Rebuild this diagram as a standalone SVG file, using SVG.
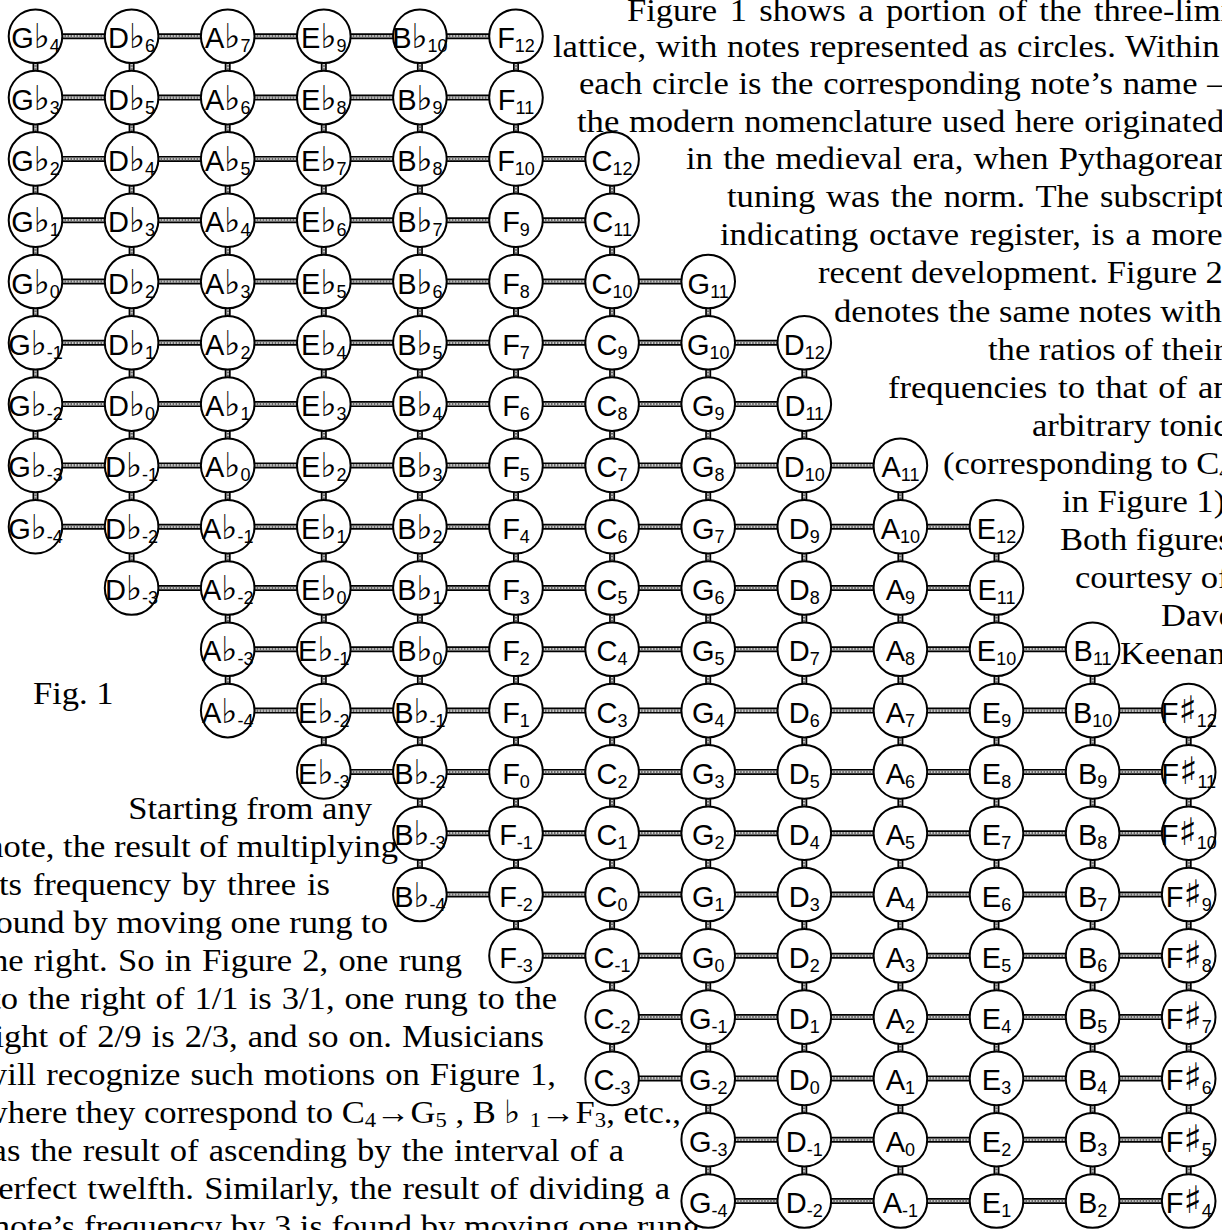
<svg xmlns="http://www.w3.org/2000/svg" xmlns:xlink="http://www.w3.org/1999/xlink" width="1222" height="1230" viewBox="0 0 1222 1230">
<style>
  .n circle { fill:#fff; stroke:#000; stroke-width:2; }
  .n text { font-family:"Liberation Sans", Arial, sans-serif; font-size:29px; text-anchor:middle; fill:#000; }
  .n .a { font-family:"DejaVu Sans", sans-serif; font-size:34px; font-weight:bold; }
  .n .sh { font-family:"DejaVu Sans", sans-serif; font-size:38px; }
  .n .s { font-size:18px; }
  .r0 { stroke:#000; stroke-width:6; }
  .r1 { stroke:#c8c8c8; stroke-width:2.6; }
  .r2 { stroke:#6a6a6a; stroke-width:2.6; stroke-dasharray:1.5 1.5; }
  .t { font-family:"Liberation Serif", "Times New Roman", serif; font-size:32px; fill:#000; }
  .e { text-anchor:end; }
  .ss { font-size:21px; }
</style>
<defs>
  <!-- one horizontal rung (to the right of a note) and one vertical rung (below a note) -->
  <g id="h"><line class="r0" x1="26" x2="70.1"/><line class="r1" x1="26" x2="70.1"/><line class="r2" x1="26" x2="70.1"/></g>
  <g id="v"><line class="r0" y1="26" y2="35.3"/><line class="r1" y1="26" y2="35.3"/><line class="r2" y1="26" y2="35.3"/></g>
</defs>
<rect width="1222" height="1230" fill="#fff"/>

<!-- body text -->
<g id="text">
  <text class="t" transform="translate(627 21) scale(1.08 1)" style="word-spacing:3.5px">Figure 1 shows a portion of the three-limit</text>
  <text class="t" transform="translate(553 57) scale(1.08 1)" style="word-spacing:1px">lattice, with notes represented as circles. Within</text>
  <text class="t" transform="translate(579 94) scale(1.08 1)" style="word-spacing:1px">each circle is the corresponding note’s name –</text>
  <text class="t" transform="translate(577 131.5) scale(1.08 1)" style="word-spacing:1px">the modern nomenclature used here originated</text>
  <text class="t" transform="translate(686 169.1) scale(1.08 1)" style="word-spacing:1.5px">in the medieval era, when Pythagorean</text>
  <text class="t" transform="translate(727 207.2) scale(1.08 1)" style="word-spacing:2px">tuning was the norm. The subscript,</text>
  <text class="t" transform="translate(720 245.3) scale(1.08 1)" style="word-spacing:2px">indicating octave register, is a more</text>
  <text class="t" transform="translate(818 283.4) scale(1.08 1)">recent development. Figure 2</text>
  <text class="t" transform="translate(834 321.5) scale(1.08 1)">denotes the same notes with</text>
  <text class="t" transform="translate(988 359.6) scale(1.08 1)">the ratios of their</text>
  <text class="t" transform="translate(888 397.7) scale(1.08 1)" style="word-spacing:2px">frequencies to that of an</text>
  <text class="t" transform="translate(1032 435.8) scale(1.08 1)">arbitrary tonic</text>
  <text class="t" transform="translate(943 473.9) scale(1.08 1)">(corresponding to C<tspan class="ss" dy="4">4</tspan></text>
  <text class="t" transform="translate(1062 512) scale(1.08 1)">in Figure 1).</text>
  <text class="t" transform="translate(1060 550.1) scale(1.08 1)">Both figures</text>
  <text class="t" transform="translate(1075 588.2) scale(1.08 1)">courtesy of</text>
  <text class="t" transform="translate(1161 626.3) scale(1.08 1)">Dave</text>
  <text class="t" transform="translate(1120 664.4) scale(1.08 1)">Keenan.</text>

  <text class="t" transform="translate(33 704) scale(1.08 1)">Fig. 1</text>

  <text class="t e" transform="translate(372 818.5) scale(1.08 1)">Starting from any</text>
  <text class="t e" transform="translate(398 856.6) scale(1.08 1)">note, the result of multiplying</text>
  <text class="t e" transform="translate(330 894.6) scale(1.08 1)" style="word-spacing:2px">its frequency by three is</text>
  <text class="t e" transform="translate(388 932.7) scale(1.08 1)">found by moving one rung to</text>
  <text class="t e" transform="translate(462 970.7) scale(1.08 1)" style="word-spacing:1.5px">the right. So in Figure 2, one rung</text>
  <text class="t e" transform="translate(557 1008.8) scale(1.08 1)" style="word-spacing:1.3px">to the right of 1/1 is 3/1, one rung to the</text>
  <text class="t e" transform="translate(544 1046.8) scale(1.08 1)" style="word-spacing:1.4px">right of 2/9 is 2/3, and so on. Musicians</text>
  <text class="t e" transform="translate(556 1084.9) scale(1.08 1)" style="word-spacing:1.3px">will recognize such motions on Figure 1,</text>
  <text class="t e" transform="translate(681 1122.9) scale(1.08 1)">where they correspond to C<tspan class="ss" dy="4">4</tspan><tspan dy="-4">→G</tspan><tspan class="ss" dy="4">5</tspan><tspan dy="-4"> , B ♭ </tspan><tspan class="ss" dy="4">1</tspan><tspan dy="-4">→F</tspan><tspan class="ss" dy="4">3</tspan><tspan dy="-4">, etc.,</tspan></text>
  <text class="t e" transform="translate(624 1161) scale(1.08 1)" style="word-spacing:1.4px">as the result of ascending by the interval of a</text>
  <text class="t e" transform="translate(670 1199) scale(1.08 1)" style="word-spacing:1.7px">perfect twelfth. Similarly, the result of dividing a</text>
  <text class="t e" transform="translate(700 1237.1) scale(1.08 1)">note’s frequency by 3 is found by moving one rung</text>
</g>

<!-- rungs of the lattice -->
<g id="connectors">
  <g id="rows">
    <g transform="translate(0 36.3)"><use href="#h" x="35.5"/><use href="#h" x="131.6"/><use href="#h" x="227.7"/><use href="#h" x="323.8"/><use href="#h" x="419.9"/></g>
    <g transform="translate(0 97.6)"><use href="#h" x="35.5"/><use href="#h" x="131.6"/><use href="#h" x="227.7"/><use href="#h" x="323.8"/><use href="#h" x="419.9"/></g>
    <g transform="translate(0 158.9)"><use href="#h" x="35.5"/><use href="#h" x="131.6"/><use href="#h" x="227.7"/><use href="#h" x="323.8"/><use href="#h" x="419.9"/><use href="#h" x="516"/></g>
    <g transform="translate(0 220.2)"><use href="#h" x="35.5"/><use href="#h" x="131.6"/><use href="#h" x="227.7"/><use href="#h" x="323.8"/><use href="#h" x="419.9"/><use href="#h" x="516"/></g>
    <g transform="translate(0 281.5)"><use href="#h" x="35.5"/><use href="#h" x="131.6"/><use href="#h" x="227.7"/><use href="#h" x="323.8"/><use href="#h" x="419.9"/><use href="#h" x="516"/><use href="#h" x="612.1"/></g>
    <g transform="translate(0 342.8)"><use href="#h" x="35.5"/><use href="#h" x="131.6"/><use href="#h" x="227.7"/><use href="#h" x="323.8"/><use href="#h" x="419.9"/><use href="#h" x="516"/><use href="#h" x="612.1"/><use href="#h" x="708.2"/></g>
    <g transform="translate(0 404.1)"><use href="#h" x="35.5"/><use href="#h" x="131.6"/><use href="#h" x="227.7"/><use href="#h" x="323.8"/><use href="#h" x="419.9"/><use href="#h" x="516"/><use href="#h" x="612.1"/><use href="#h" x="708.2"/></g>
    <g transform="translate(0 465.4)"><use href="#h" x="35.5"/><use href="#h" x="131.6"/><use href="#h" x="227.7"/><use href="#h" x="323.8"/><use href="#h" x="419.9"/><use href="#h" x="516"/><use href="#h" x="612.1"/><use href="#h" x="708.2"/><use href="#h" x="804.3"/></g>
    <g transform="translate(0 526.7)"><use href="#h" x="35.5"/><use href="#h" x="131.6"/><use href="#h" x="227.7"/><use href="#h" x="323.8"/><use href="#h" x="419.9"/><use href="#h" x="516"/><use href="#h" x="612.1"/><use href="#h" x="708.2"/><use href="#h" x="804.3"/><use href="#h" x="900.4"/></g>
    <g transform="translate(0 588)"><use href="#h" x="131.6"/><use href="#h" x="227.7"/><use href="#h" x="323.8"/><use href="#h" x="419.9"/><use href="#h" x="516"/><use href="#h" x="612.1"/><use href="#h" x="708.2"/><use href="#h" x="804.3"/><use href="#h" x="900.4"/></g>
    <g transform="translate(0 649.3)"><use href="#h" x="227.7"/><use href="#h" x="323.8"/><use href="#h" x="419.9"/><use href="#h" x="516"/><use href="#h" x="612.1"/><use href="#h" x="708.2"/><use href="#h" x="804.3"/><use href="#h" x="900.4"/><use href="#h" x="996.5"/></g>
    <g transform="translate(0 710.6)"><use href="#h" x="227.7"/><use href="#h" x="323.8"/><use href="#h" x="419.9"/><use href="#h" x="516"/><use href="#h" x="612.1"/><use href="#h" x="708.2"/><use href="#h" x="804.3"/><use href="#h" x="900.4"/><use href="#h" x="996.5"/><use href="#h" x="1092.6"/></g>
    <g transform="translate(0 771.9)"><use href="#h" x="323.8"/><use href="#h" x="419.9"/><use href="#h" x="516"/><use href="#h" x="612.1"/><use href="#h" x="708.2"/><use href="#h" x="804.3"/><use href="#h" x="900.4"/><use href="#h" x="996.5"/><use href="#h" x="1092.6"/></g>
    <g transform="translate(0 833.2)"><use href="#h" x="419.9"/><use href="#h" x="516"/><use href="#h" x="612.1"/><use href="#h" x="708.2"/><use href="#h" x="804.3"/><use href="#h" x="900.4"/><use href="#h" x="996.5"/><use href="#h" x="1092.6"/></g>
    <g transform="translate(0 894.5)"><use href="#h" x="419.9"/><use href="#h" x="516"/><use href="#h" x="612.1"/><use href="#h" x="708.2"/><use href="#h" x="804.3"/><use href="#h" x="900.4"/><use href="#h" x="996.5"/><use href="#h" x="1092.6"/></g>
    <g transform="translate(0 955.8)"><use href="#h" x="516"/><use href="#h" x="612.1"/><use href="#h" x="708.2"/><use href="#h" x="804.3"/><use href="#h" x="900.4"/><use href="#h" x="996.5"/><use href="#h" x="1092.6"/></g>
    <g transform="translate(0 1017.1)"><use href="#h" x="612.1"/><use href="#h" x="708.2"/><use href="#h" x="804.3"/><use href="#h" x="900.4"/><use href="#h" x="996.5"/><use href="#h" x="1092.6"/></g>
    <g transform="translate(0 1078.4)"><use href="#h" x="612.1"/><use href="#h" x="708.2"/><use href="#h" x="804.3"/><use href="#h" x="900.4"/><use href="#h" x="996.5"/><use href="#h" x="1092.6"/></g>
    <g transform="translate(0 1139.7)"><use href="#h" x="708.2"/><use href="#h" x="804.3"/><use href="#h" x="900.4"/><use href="#h" x="996.5"/><use href="#h" x="1092.6"/></g>
    <g transform="translate(0 1201)"><use href="#h" x="708.2"/><use href="#h" x="804.3"/><use href="#h" x="900.4"/><use href="#h" x="996.5"/><use href="#h" x="1092.6"/></g>
  </g>
  <g id="columns">
    <g transform="translate(35.5 0)"><use href="#v" y="36.3"/><use href="#v" y="97.6"/><use href="#v" y="158.9"/><use href="#v" y="220.2"/><use href="#v" y="281.5"/><use href="#v" y="342.8"/><use href="#v" y="404.1"/><use href="#v" y="465.4"/></g>
    <g transform="translate(131.6 0)"><use href="#v" y="36.3"/><use href="#v" y="97.6"/><use href="#v" y="158.9"/><use href="#v" y="220.2"/><use href="#v" y="281.5"/><use href="#v" y="342.8"/><use href="#v" y="404.1"/><use href="#v" y="465.4"/><use href="#v" y="526.7"/></g>
    <g transform="translate(227.7 0)"><use href="#v" y="36.3"/><use href="#v" y="97.6"/><use href="#v" y="158.9"/><use href="#v" y="220.2"/><use href="#v" y="281.5"/><use href="#v" y="342.8"/><use href="#v" y="404.1"/><use href="#v" y="465.4"/><use href="#v" y="526.7"/><use href="#v" y="588"/><use href="#v" y="649.3"/></g>
    <g transform="translate(323.8 0)"><use href="#v" y="36.3"/><use href="#v" y="97.6"/><use href="#v" y="158.9"/><use href="#v" y="220.2"/><use href="#v" y="281.5"/><use href="#v" y="342.8"/><use href="#v" y="404.1"/><use href="#v" y="465.4"/><use href="#v" y="526.7"/><use href="#v" y="588"/><use href="#v" y="649.3"/><use href="#v" y="710.6"/></g>
    <g transform="translate(419.9 0)"><use href="#v" y="36.3"/><use href="#v" y="97.6"/><use href="#v" y="158.9"/><use href="#v" y="220.2"/><use href="#v" y="281.5"/><use href="#v" y="342.8"/><use href="#v" y="404.1"/><use href="#v" y="465.4"/><use href="#v" y="526.7"/><use href="#v" y="588"/><use href="#v" y="649.3"/><use href="#v" y="710.6"/><use href="#v" y="771.9"/><use href="#v" y="833.2"/></g>
    <g transform="translate(516 0)"><use href="#v" y="36.3"/><use href="#v" y="97.6"/><use href="#v" y="158.9"/><use href="#v" y="220.2"/><use href="#v" y="281.5"/><use href="#v" y="342.8"/><use href="#v" y="404.1"/><use href="#v" y="465.4"/><use href="#v" y="526.7"/><use href="#v" y="588"/><use href="#v" y="649.3"/><use href="#v" y="710.6"/><use href="#v" y="771.9"/><use href="#v" y="833.2"/><use href="#v" y="894.5"/></g>
    <g transform="translate(612.1 0)"><use href="#v" y="158.9"/><use href="#v" y="220.2"/><use href="#v" y="281.5"/><use href="#v" y="342.8"/><use href="#v" y="404.1"/><use href="#v" y="465.4"/><use href="#v" y="526.7"/><use href="#v" y="588"/><use href="#v" y="649.3"/><use href="#v" y="710.6"/><use href="#v" y="771.9"/><use href="#v" y="833.2"/><use href="#v" y="894.5"/><use href="#v" y="955.8"/><use href="#v" y="1017.1"/></g>
    <g transform="translate(708.2 0)"><use href="#v" y="281.5"/><use href="#v" y="342.8"/><use href="#v" y="404.1"/><use href="#v" y="465.4"/><use href="#v" y="526.7"/><use href="#v" y="588"/><use href="#v" y="649.3"/><use href="#v" y="710.6"/><use href="#v" y="771.9"/><use href="#v" y="833.2"/><use href="#v" y="894.5"/><use href="#v" y="955.8"/><use href="#v" y="1017.1"/><use href="#v" y="1078.4"/><use href="#v" y="1139.7"/></g>
    <g transform="translate(804.3 0)"><use href="#v" y="342.8"/><use href="#v" y="404.1"/><use href="#v" y="465.4"/><use href="#v" y="526.7"/><use href="#v" y="588"/><use href="#v" y="649.3"/><use href="#v" y="710.6"/><use href="#v" y="771.9"/><use href="#v" y="833.2"/><use href="#v" y="894.5"/><use href="#v" y="955.8"/><use href="#v" y="1017.1"/><use href="#v" y="1078.4"/><use href="#v" y="1139.7"/></g>
    <g transform="translate(900.4 0)"><use href="#v" y="465.4"/><use href="#v" y="526.7"/><use href="#v" y="588"/><use href="#v" y="649.3"/><use href="#v" y="710.6"/><use href="#v" y="771.9"/><use href="#v" y="833.2"/><use href="#v" y="894.5"/><use href="#v" y="955.8"/><use href="#v" y="1017.1"/><use href="#v" y="1078.4"/><use href="#v" y="1139.7"/></g>
    <g transform="translate(996.5 0)"><use href="#v" y="526.7"/><use href="#v" y="588"/><use href="#v" y="649.3"/><use href="#v" y="710.6"/><use href="#v" y="771.9"/><use href="#v" y="833.2"/><use href="#v" y="894.5"/><use href="#v" y="955.8"/><use href="#v" y="1017.1"/><use href="#v" y="1078.4"/><use href="#v" y="1139.7"/></g>
    <g transform="translate(1092.6 0)"><use href="#v" y="649.3"/><use href="#v" y="710.6"/><use href="#v" y="771.9"/><use href="#v" y="833.2"/><use href="#v" y="894.5"/><use href="#v" y="955.8"/><use href="#v" y="1017.1"/><use href="#v" y="1078.4"/><use href="#v" y="1139.7"/></g>
    <g transform="translate(1188.7 0)"><use href="#v" y="710.6"/><use href="#v" y="771.9"/><use href="#v" y="833.2"/><use href="#v" y="894.5"/><use href="#v" y="955.8"/><use href="#v" y="1017.1"/><use href="#v" y="1078.4"/><use href="#v" y="1139.7"/></g>
  </g>
</g>

<!-- notes -->
<g id="notes">
  <!-- row 0 -->
  <g id="Gb4" class="n" transform="translate(35.5 36.3)"><circle r="26.8"/><text y="12">G<tspan class="a">♭</tspan><tspan class="s" dy="4">4</tspan></text></g>
  <g id="Db6" class="n" transform="translate(131.6 36.3)"><circle r="26.8"/><text y="12">D<tspan class="a">♭</tspan><tspan class="s" dy="4">6</tspan></text></g>
  <g id="Ab7" class="n" transform="translate(227.7 36.3)"><circle r="26.8"/><text y="12">A<tspan class="a">♭</tspan><tspan class="s" dy="4">7</tspan></text></g>
  <g id="Eb9" class="n" transform="translate(323.8 36.3)"><circle r="26.8"/><text y="12">E<tspan class="a">♭</tspan><tspan class="s" dy="4">9</tspan></text></g>
  <g id="Bb10" class="n" transform="translate(419.9 36.3)"><circle r="26.8"/><text y="12">B<tspan class="a">♭</tspan><tspan class="s" dy="4">10</tspan></text></g>
  <g id="F12" class="n" transform="translate(516 36.3)"><circle r="26.8"/><text y="12">F<tspan class="s" dy="4">12</tspan></text></g>
  <!-- row 1 -->
  <g id="Gb3" class="n" transform="translate(35.5 97.6)"><circle r="26.8"/><text y="12">G<tspan class="a">♭</tspan><tspan class="s" dy="4">3</tspan></text></g>
  <g id="Db5" class="n" transform="translate(131.6 97.6)"><circle r="26.8"/><text y="12">D<tspan class="a">♭</tspan><tspan class="s" dy="4">5</tspan></text></g>
  <g id="Ab6" class="n" transform="translate(227.7 97.6)"><circle r="26.8"/><text y="12">A<tspan class="a">♭</tspan><tspan class="s" dy="4">6</tspan></text></g>
  <g id="Eb8" class="n" transform="translate(323.8 97.6)"><circle r="26.8"/><text y="12">E<tspan class="a">♭</tspan><tspan class="s" dy="4">8</tspan></text></g>
  <g id="Bb9" class="n" transform="translate(419.9 97.6)"><circle r="26.8"/><text y="12">B<tspan class="a">♭</tspan><tspan class="s" dy="4">9</tspan></text></g>
  <g id="F11" class="n" transform="translate(516 97.6)"><circle r="26.8"/><text y="12">F<tspan class="s" dy="4">11</tspan></text></g>
  <!-- row 2 -->
  <g id="Gb2" class="n" transform="translate(35.5 158.9)"><circle r="26.8"/><text y="12">G<tspan class="a">♭</tspan><tspan class="s" dy="4">2</tspan></text></g>
  <g id="Db4" class="n" transform="translate(131.6 158.9)"><circle r="26.8"/><text y="12">D<tspan class="a">♭</tspan><tspan class="s" dy="4">4</tspan></text></g>
  <g id="Ab5" class="n" transform="translate(227.7 158.9)"><circle r="26.8"/><text y="12">A<tspan class="a">♭</tspan><tspan class="s" dy="4">5</tspan></text></g>
  <g id="Eb7" class="n" transform="translate(323.8 158.9)"><circle r="26.8"/><text y="12">E<tspan class="a">♭</tspan><tspan class="s" dy="4">7</tspan></text></g>
  <g id="Bb8" class="n" transform="translate(419.9 158.9)"><circle r="26.8"/><text y="12">B<tspan class="a">♭</tspan><tspan class="s" dy="4">8</tspan></text></g>
  <g id="F10" class="n" transform="translate(516 158.9)"><circle r="26.8"/><text y="12">F<tspan class="s" dy="4">10</tspan></text></g>
  <g id="C12" class="n" transform="translate(612.1 158.9)"><circle r="26.8"/><text y="12">C<tspan class="s" dy="4">12</tspan></text></g>
  <!-- row 3 -->
  <g id="Gb1" class="n" transform="translate(35.5 220.2)"><circle r="26.8"/><text y="12">G<tspan class="a">♭</tspan><tspan class="s" dy="4">1</tspan></text></g>
  <g id="Db3" class="n" transform="translate(131.6 220.2)"><circle r="26.8"/><text y="12">D<tspan class="a">♭</tspan><tspan class="s" dy="4">3</tspan></text></g>
  <g id="Ab4" class="n" transform="translate(227.7 220.2)"><circle r="26.8"/><text y="12">A<tspan class="a">♭</tspan><tspan class="s" dy="4">4</tspan></text></g>
  <g id="Eb6" class="n" transform="translate(323.8 220.2)"><circle r="26.8"/><text y="12">E<tspan class="a">♭</tspan><tspan class="s" dy="4">6</tspan></text></g>
  <g id="Bb7" class="n" transform="translate(419.9 220.2)"><circle r="26.8"/><text y="12">B<tspan class="a">♭</tspan><tspan class="s" dy="4">7</tspan></text></g>
  <g id="F9" class="n" transform="translate(516 220.2)"><circle r="26.8"/><text y="12">F<tspan class="s" dy="4">9</tspan></text></g>
  <g id="C11" class="n" transform="translate(612.1 220.2)"><circle r="26.8"/><text y="12">C<tspan class="s" dy="4">11</tspan></text></g>
  <!-- row 4 -->
  <g id="Gb0" class="n" transform="translate(35.5 281.5)"><circle r="26.8"/><text y="12">G<tspan class="a">♭</tspan><tspan class="s" dy="4">0</tspan></text></g>
  <g id="Db2" class="n" transform="translate(131.6 281.5)"><circle r="26.8"/><text y="12">D<tspan class="a">♭</tspan><tspan class="s" dy="4">2</tspan></text></g>
  <g id="Ab3" class="n" transform="translate(227.7 281.5)"><circle r="26.8"/><text y="12">A<tspan class="a">♭</tspan><tspan class="s" dy="4">3</tspan></text></g>
  <g id="Eb5" class="n" transform="translate(323.8 281.5)"><circle r="26.8"/><text y="12">E<tspan class="a">♭</tspan><tspan class="s" dy="4">5</tspan></text></g>
  <g id="Bb6" class="n" transform="translate(419.9 281.5)"><circle r="26.8"/><text y="12">B<tspan class="a">♭</tspan><tspan class="s" dy="4">6</tspan></text></g>
  <g id="F8" class="n" transform="translate(516 281.5)"><circle r="26.8"/><text y="12">F<tspan class="s" dy="4">8</tspan></text></g>
  <g id="C10" class="n" transform="translate(612.1 281.5)"><circle r="26.8"/><text y="12">C<tspan class="s" dy="4">10</tspan></text></g>
  <g id="G11" class="n" transform="translate(708.2 281.5)"><circle r="26.8"/><text y="12">G<tspan class="s" dy="4">11</tspan></text></g>
  <!-- row 5 -->
  <g id="Gb-1" class="n" transform="translate(35.5 342.8)"><circle r="26.8"/><text y="12">G<tspan class="a">♭</tspan><tspan class="s" dy="4">-1</tspan></text></g>
  <g id="Db1" class="n" transform="translate(131.6 342.8)"><circle r="26.8"/><text y="12">D<tspan class="a">♭</tspan><tspan class="s" dy="4">1</tspan></text></g>
  <g id="Ab2" class="n" transform="translate(227.7 342.8)"><circle r="26.8"/><text y="12">A<tspan class="a">♭</tspan><tspan class="s" dy="4">2</tspan></text></g>
  <g id="Eb4" class="n" transform="translate(323.8 342.8)"><circle r="26.8"/><text y="12">E<tspan class="a">♭</tspan><tspan class="s" dy="4">4</tspan></text></g>
  <g id="Bb5" class="n" transform="translate(419.9 342.8)"><circle r="26.8"/><text y="12">B<tspan class="a">♭</tspan><tspan class="s" dy="4">5</tspan></text></g>
  <g id="F7" class="n" transform="translate(516 342.8)"><circle r="26.8"/><text y="12">F<tspan class="s" dy="4">7</tspan></text></g>
  <g id="C9" class="n" transform="translate(612.1 342.8)"><circle r="26.8"/><text y="12">C<tspan class="s" dy="4">9</tspan></text></g>
  <g id="G10" class="n" transform="translate(708.2 342.8)"><circle r="26.8"/><text y="12">G<tspan class="s" dy="4">10</tspan></text></g>
  <g id="D12" class="n" transform="translate(804.3 342.8)"><circle r="26.8"/><text y="12">D<tspan class="s" dy="4">12</tspan></text></g>
  <!-- row 6 -->
  <g id="Gb-2" class="n" transform="translate(35.5 404.1)"><circle r="26.8"/><text y="12">G<tspan class="a">♭</tspan><tspan class="s" dy="4">-2</tspan></text></g>
  <g id="Db0" class="n" transform="translate(131.6 404.1)"><circle r="26.8"/><text y="12">D<tspan class="a">♭</tspan><tspan class="s" dy="4">0</tspan></text></g>
  <g id="Ab1" class="n" transform="translate(227.7 404.1)"><circle r="26.8"/><text y="12">A<tspan class="a">♭</tspan><tspan class="s" dy="4">1</tspan></text></g>
  <g id="Eb3" class="n" transform="translate(323.8 404.1)"><circle r="26.8"/><text y="12">E<tspan class="a">♭</tspan><tspan class="s" dy="4">3</tspan></text></g>
  <g id="Bb4" class="n" transform="translate(419.9 404.1)"><circle r="26.8"/><text y="12">B<tspan class="a">♭</tspan><tspan class="s" dy="4">4</tspan></text></g>
  <g id="F6" class="n" transform="translate(516 404.1)"><circle r="26.8"/><text y="12">F<tspan class="s" dy="4">6</tspan></text></g>
  <g id="C8" class="n" transform="translate(612.1 404.1)"><circle r="26.8"/><text y="12">C<tspan class="s" dy="4">8</tspan></text></g>
  <g id="G9" class="n" transform="translate(708.2 404.1)"><circle r="26.8"/><text y="12">G<tspan class="s" dy="4">9</tspan></text></g>
  <g id="D11" class="n" transform="translate(804.3 404.1)"><circle r="26.8"/><text y="12">D<tspan class="s" dy="4">11</tspan></text></g>
  <!-- row 7 -->
  <g id="Gb-3" class="n" transform="translate(35.5 465.4)"><circle r="26.8"/><text y="12">G<tspan class="a">♭</tspan><tspan class="s" dy="4">-3</tspan></text></g>
  <g id="Db-1" class="n" transform="translate(131.6 465.4)"><circle r="26.8"/><text y="12">D<tspan class="a">♭</tspan><tspan class="s" dy="4">-1</tspan></text></g>
  <g id="Ab0" class="n" transform="translate(227.7 465.4)"><circle r="26.8"/><text y="12">A<tspan class="a">♭</tspan><tspan class="s" dy="4">0</tspan></text></g>
  <g id="Eb2" class="n" transform="translate(323.8 465.4)"><circle r="26.8"/><text y="12">E<tspan class="a">♭</tspan><tspan class="s" dy="4">2</tspan></text></g>
  <g id="Bb3" class="n" transform="translate(419.9 465.4)"><circle r="26.8"/><text y="12">B<tspan class="a">♭</tspan><tspan class="s" dy="4">3</tspan></text></g>
  <g id="F5" class="n" transform="translate(516 465.4)"><circle r="26.8"/><text y="12">F<tspan class="s" dy="4">5</tspan></text></g>
  <g id="C7" class="n" transform="translate(612.1 465.4)"><circle r="26.8"/><text y="12">C<tspan class="s" dy="4">7</tspan></text></g>
  <g id="G8" class="n" transform="translate(708.2 465.4)"><circle r="26.8"/><text y="12">G<tspan class="s" dy="4">8</tspan></text></g>
  <g id="D10" class="n" transform="translate(804.3 465.4)"><circle r="26.8"/><text y="12">D<tspan class="s" dy="4">10</tspan></text></g>
  <g id="A11" class="n" transform="translate(900.4 465.4)"><circle r="26.8"/><text y="12">A<tspan class="s" dy="4">11</tspan></text></g>
  <!-- row 8 -->
  <g id="Gb-4" class="n" transform="translate(35.5 526.7)"><circle r="26.8"/><text y="12">G<tspan class="a">♭</tspan><tspan class="s" dy="4">-4</tspan></text></g>
  <g id="Db-2" class="n" transform="translate(131.6 526.7)"><circle r="26.8"/><text y="12">D<tspan class="a">♭</tspan><tspan class="s" dy="4">-2</tspan></text></g>
  <g id="Ab-1" class="n" transform="translate(227.7 526.7)"><circle r="26.8"/><text y="12">A<tspan class="a">♭</tspan><tspan class="s" dy="4">-1</tspan></text></g>
  <g id="Eb1" class="n" transform="translate(323.8 526.7)"><circle r="26.8"/><text y="12">E<tspan class="a">♭</tspan><tspan class="s" dy="4">1</tspan></text></g>
  <g id="Bb2" class="n" transform="translate(419.9 526.7)"><circle r="26.8"/><text y="12">B<tspan class="a">♭</tspan><tspan class="s" dy="4">2</tspan></text></g>
  <g id="F4" class="n" transform="translate(516 526.7)"><circle r="26.8"/><text y="12">F<tspan class="s" dy="4">4</tspan></text></g>
  <g id="C6" class="n" transform="translate(612.1 526.7)"><circle r="26.8"/><text y="12">C<tspan class="s" dy="4">6</tspan></text></g>
  <g id="G7" class="n" transform="translate(708.2 526.7)"><circle r="26.8"/><text y="12">G<tspan class="s" dy="4">7</tspan></text></g>
  <g id="D9" class="n" transform="translate(804.3 526.7)"><circle r="26.8"/><text y="12">D<tspan class="s" dy="4">9</tspan></text></g>
  <g id="A10" class="n" transform="translate(900.4 526.7)"><circle r="26.8"/><text y="12">A<tspan class="s" dy="4">10</tspan></text></g>
  <g id="E12" class="n" transform="translate(996.5 526.7)"><circle r="26.8"/><text y="12">E<tspan class="s" dy="4">12</tspan></text></g>
  <!-- row 9 -->
  <g id="Db-3" class="n" transform="translate(131.6 588)"><circle r="26.8"/><text y="12">D<tspan class="a">♭</tspan><tspan class="s" dy="4">-3</tspan></text></g>
  <g id="Ab-2" class="n" transform="translate(227.7 588)"><circle r="26.8"/><text y="12">A<tspan class="a">♭</tspan><tspan class="s" dy="4">-2</tspan></text></g>
  <g id="Eb0" class="n" transform="translate(323.8 588)"><circle r="26.8"/><text y="12">E<tspan class="a">♭</tspan><tspan class="s" dy="4">0</tspan></text></g>
  <g id="Bb1" class="n" transform="translate(419.9 588)"><circle r="26.8"/><text y="12">B<tspan class="a">♭</tspan><tspan class="s" dy="4">1</tspan></text></g>
  <g id="F3" class="n" transform="translate(516 588)"><circle r="26.8"/><text y="12">F<tspan class="s" dy="4">3</tspan></text></g>
  <g id="C5" class="n" transform="translate(612.1 588)"><circle r="26.8"/><text y="12">C<tspan class="s" dy="4">5</tspan></text></g>
  <g id="G6" class="n" transform="translate(708.2 588)"><circle r="26.8"/><text y="12">G<tspan class="s" dy="4">6</tspan></text></g>
  <g id="D8" class="n" transform="translate(804.3 588)"><circle r="26.8"/><text y="12">D<tspan class="s" dy="4">8</tspan></text></g>
  <g id="A9" class="n" transform="translate(900.4 588)"><circle r="26.8"/><text y="12">A<tspan class="s" dy="4">9</tspan></text></g>
  <g id="E11" class="n" transform="translate(996.5 588)"><circle r="26.8"/><text y="12">E<tspan class="s" dy="4">11</tspan></text></g>
  <!-- row 10 -->
  <g id="Ab-3" class="n" transform="translate(227.7 649.3)"><circle r="26.8"/><text y="12">A<tspan class="a">♭</tspan><tspan class="s" dy="4">-3</tspan></text></g>
  <g id="Eb-1" class="n" transform="translate(323.8 649.3)"><circle r="26.8"/><text y="12">E<tspan class="a">♭</tspan><tspan class="s" dy="4">-1</tspan></text></g>
  <g id="Bb0" class="n" transform="translate(419.9 649.3)"><circle r="26.8"/><text y="12">B<tspan class="a">♭</tspan><tspan class="s" dy="4">0</tspan></text></g>
  <g id="F2" class="n" transform="translate(516 649.3)"><circle r="26.8"/><text y="12">F<tspan class="s" dy="4">2</tspan></text></g>
  <g id="C4" class="n" transform="translate(612.1 649.3)"><circle r="26.8"/><text y="12">C<tspan class="s" dy="4">4</tspan></text></g>
  <g id="G5" class="n" transform="translate(708.2 649.3)"><circle r="26.8"/><text y="12">G<tspan class="s" dy="4">5</tspan></text></g>
  <g id="D7" class="n" transform="translate(804.3 649.3)"><circle r="26.8"/><text y="12">D<tspan class="s" dy="4">7</tspan></text></g>
  <g id="A8" class="n" transform="translate(900.4 649.3)"><circle r="26.8"/><text y="12">A<tspan class="s" dy="4">8</tspan></text></g>
  <g id="E10" class="n" transform="translate(996.5 649.3)"><circle r="26.8"/><text y="12">E<tspan class="s" dy="4">10</tspan></text></g>
  <g id="B11" class="n" transform="translate(1092.6 649.3)"><circle r="26.8"/><text y="12">B<tspan class="s" dy="4">11</tspan></text></g>
  <!-- row 11 -->
  <g id="Ab-4" class="n" transform="translate(227.7 710.6)"><circle r="26.8"/><text y="12">A<tspan class="a">♭</tspan><tspan class="s" dy="4">-4</tspan></text></g>
  <g id="Eb-2" class="n" transform="translate(323.8 710.6)"><circle r="26.8"/><text y="12">E<tspan class="a">♭</tspan><tspan class="s" dy="4">-2</tspan></text></g>
  <g id="Bb-1" class="n" transform="translate(419.9 710.6)"><circle r="26.8"/><text y="12">B<tspan class="a">♭</tspan><tspan class="s" dy="4">-1</tspan></text></g>
  <g id="F1" class="n" transform="translate(516 710.6)"><circle r="26.8"/><text y="12">F<tspan class="s" dy="4">1</tspan></text></g>
  <g id="C3" class="n" transform="translate(612.1 710.6)"><circle r="26.8"/><text y="12">C<tspan class="s" dy="4">3</tspan></text></g>
  <g id="G4" class="n" transform="translate(708.2 710.6)"><circle r="26.8"/><text y="12">G<tspan class="s" dy="4">4</tspan></text></g>
  <g id="D6" class="n" transform="translate(804.3 710.6)"><circle r="26.8"/><text y="12">D<tspan class="s" dy="4">6</tspan></text></g>
  <g id="A7" class="n" transform="translate(900.4 710.6)"><circle r="26.8"/><text y="12">A<tspan class="s" dy="4">7</tspan></text></g>
  <g id="E9" class="n" transform="translate(996.5 710.6)"><circle r="26.8"/><text y="12">E<tspan class="s" dy="4">9</tspan></text></g>
  <g id="B10" class="n" transform="translate(1092.6 710.6)"><circle r="26.8"/><text y="12">B<tspan class="s" dy="4">10</tspan></text></g>
  <g id="Fs12" class="n" transform="translate(1188.7 710.6)"><circle r="26.8"/><text y="12">F<tspan class="sh">♯</tspan><tspan class="s" dy="4">12</tspan></text></g>
  <!-- row 12 -->
  <g id="Eb-3" class="n" transform="translate(323.8 771.9)"><circle r="26.8"/><text y="12">E<tspan class="a">♭</tspan><tspan class="s" dy="4">-3</tspan></text></g>
  <g id="Bb-2" class="n" transform="translate(419.9 771.9)"><circle r="26.8"/><text y="12">B<tspan class="a">♭</tspan><tspan class="s" dy="4">-2</tspan></text></g>
  <g id="F0" class="n" transform="translate(516 771.9)"><circle r="26.8"/><text y="12">F<tspan class="s" dy="4">0</tspan></text></g>
  <g id="C2" class="n" transform="translate(612.1 771.9)"><circle r="26.8"/><text y="12">C<tspan class="s" dy="4">2</tspan></text></g>
  <g id="G3" class="n" transform="translate(708.2 771.9)"><circle r="26.8"/><text y="12">G<tspan class="s" dy="4">3</tspan></text></g>
  <g id="D5" class="n" transform="translate(804.3 771.9)"><circle r="26.8"/><text y="12">D<tspan class="s" dy="4">5</tspan></text></g>
  <g id="A6" class="n" transform="translate(900.4 771.9)"><circle r="26.8"/><text y="12">A<tspan class="s" dy="4">6</tspan></text></g>
  <g id="E8" class="n" transform="translate(996.5 771.9)"><circle r="26.8"/><text y="12">E<tspan class="s" dy="4">8</tspan></text></g>
  <g id="B9" class="n" transform="translate(1092.6 771.9)"><circle r="26.8"/><text y="12">B<tspan class="s" dy="4">9</tspan></text></g>
  <g id="Fs11" class="n" transform="translate(1188.7 771.9)"><circle r="26.8"/><text y="12">F<tspan class="sh">♯</tspan><tspan class="s" dy="4">11</tspan></text></g>
  <!-- row 13 -->
  <g id="Bb-3" class="n" transform="translate(419.9 833.2)"><circle r="26.8"/><text y="12">B<tspan class="a">♭</tspan><tspan class="s" dy="4">-3</tspan></text></g>
  <g id="F-1" class="n" transform="translate(516 833.2)"><circle r="26.8"/><text y="12">F<tspan class="s" dy="4">-1</tspan></text></g>
  <g id="C1" class="n" transform="translate(612.1 833.2)"><circle r="26.8"/><text y="12">C<tspan class="s" dy="4">1</tspan></text></g>
  <g id="G2" class="n" transform="translate(708.2 833.2)"><circle r="26.8"/><text y="12">G<tspan class="s" dy="4">2</tspan></text></g>
  <g id="D4" class="n" transform="translate(804.3 833.2)"><circle r="26.8"/><text y="12">D<tspan class="s" dy="4">4</tspan></text></g>
  <g id="A5" class="n" transform="translate(900.4 833.2)"><circle r="26.8"/><text y="12">A<tspan class="s" dy="4">5</tspan></text></g>
  <g id="E7" class="n" transform="translate(996.5 833.2)"><circle r="26.8"/><text y="12">E<tspan class="s" dy="4">7</tspan></text></g>
  <g id="B8" class="n" transform="translate(1092.6 833.2)"><circle r="26.8"/><text y="12">B<tspan class="s" dy="4">8</tspan></text></g>
  <g id="Fs10" class="n" transform="translate(1188.7 833.2)"><circle r="26.8"/><text y="12">F<tspan class="sh">♯</tspan><tspan class="s" dy="4">10</tspan></text></g>
  <!-- row 14 -->
  <g id="Bb-4" class="n" transform="translate(419.9 894.5)"><circle r="26.8"/><text y="12">B<tspan class="a">♭</tspan><tspan class="s" dy="4">-4</tspan></text></g>
  <g id="F-2" class="n" transform="translate(516 894.5)"><circle r="26.8"/><text y="12">F<tspan class="s" dy="4">-2</tspan></text></g>
  <g id="C0" class="n" transform="translate(612.1 894.5)"><circle r="26.8"/><text y="12">C<tspan class="s" dy="4">0</tspan></text></g>
  <g id="G1" class="n" transform="translate(708.2 894.5)"><circle r="26.8"/><text y="12">G<tspan class="s" dy="4">1</tspan></text></g>
  <g id="D3" class="n" transform="translate(804.3 894.5)"><circle r="26.8"/><text y="12">D<tspan class="s" dy="4">3</tspan></text></g>
  <g id="A4" class="n" transform="translate(900.4 894.5)"><circle r="26.8"/><text y="12">A<tspan class="s" dy="4">4</tspan></text></g>
  <g id="E6" class="n" transform="translate(996.5 894.5)"><circle r="26.8"/><text y="12">E<tspan class="s" dy="4">6</tspan></text></g>
  <g id="B7" class="n" transform="translate(1092.6 894.5)"><circle r="26.8"/><text y="12">B<tspan class="s" dy="4">7</tspan></text></g>
  <g id="Fs9" class="n" transform="translate(1188.7 894.5)"><circle r="26.8"/><text y="12">F<tspan class="sh">♯</tspan><tspan class="s" dy="4">9</tspan></text></g>
  <!-- row 15 -->
  <g id="F-3" class="n" transform="translate(516 955.8)"><circle r="26.8"/><text y="12">F<tspan class="s" dy="4">-3</tspan></text></g>
  <g id="C-1" class="n" transform="translate(612.1 955.8)"><circle r="26.8"/><text y="12">C<tspan class="s" dy="4">-1</tspan></text></g>
  <g id="G0" class="n" transform="translate(708.2 955.8)"><circle r="26.8"/><text y="12">G<tspan class="s" dy="4">0</tspan></text></g>
  <g id="D2" class="n" transform="translate(804.3 955.8)"><circle r="26.8"/><text y="12">D<tspan class="s" dy="4">2</tspan></text></g>
  <g id="A3" class="n" transform="translate(900.4 955.8)"><circle r="26.8"/><text y="12">A<tspan class="s" dy="4">3</tspan></text></g>
  <g id="E5" class="n" transform="translate(996.5 955.8)"><circle r="26.8"/><text y="12">E<tspan class="s" dy="4">5</tspan></text></g>
  <g id="B6" class="n" transform="translate(1092.6 955.8)"><circle r="26.8"/><text y="12">B<tspan class="s" dy="4">6</tspan></text></g>
  <g id="Fs8" class="n" transform="translate(1188.7 955.8)"><circle r="26.8"/><text y="12">F<tspan class="sh">♯</tspan><tspan class="s" dy="4">8</tspan></text></g>
  <!-- row 16 -->
  <g id="C-2" class="n" transform="translate(612.1 1017.1)"><circle r="26.8"/><text y="12">C<tspan class="s" dy="4">-2</tspan></text></g>
  <g id="G-1" class="n" transform="translate(708.2 1017.1)"><circle r="26.8"/><text y="12">G<tspan class="s" dy="4">-1</tspan></text></g>
  <g id="D1" class="n" transform="translate(804.3 1017.1)"><circle r="26.8"/><text y="12">D<tspan class="s" dy="4">1</tspan></text></g>
  <g id="A2" class="n" transform="translate(900.4 1017.1)"><circle r="26.8"/><text y="12">A<tspan class="s" dy="4">2</tspan></text></g>
  <g id="E4" class="n" transform="translate(996.5 1017.1)"><circle r="26.8"/><text y="12">E<tspan class="s" dy="4">4</tspan></text></g>
  <g id="B5" class="n" transform="translate(1092.6 1017.1)"><circle r="26.8"/><text y="12">B<tspan class="s" dy="4">5</tspan></text></g>
  <g id="Fs7" class="n" transform="translate(1188.7 1017.1)"><circle r="26.8"/><text y="12">F<tspan class="sh">♯</tspan><tspan class="s" dy="4">7</tspan></text></g>
  <!-- row 17 -->
  <g id="C-3" class="n" transform="translate(612.1 1078.4)"><circle r="26.8"/><text y="12">C<tspan class="s" dy="4">-3</tspan></text></g>
  <g id="G-2" class="n" transform="translate(708.2 1078.4)"><circle r="26.8"/><text y="12">G<tspan class="s" dy="4">-2</tspan></text></g>
  <g id="D0" class="n" transform="translate(804.3 1078.4)"><circle r="26.8"/><text y="12">D<tspan class="s" dy="4">0</tspan></text></g>
  <g id="A1" class="n" transform="translate(900.4 1078.4)"><circle r="26.8"/><text y="12">A<tspan class="s" dy="4">1</tspan></text></g>
  <g id="E3" class="n" transform="translate(996.5 1078.4)"><circle r="26.8"/><text y="12">E<tspan class="s" dy="4">3</tspan></text></g>
  <g id="B4" class="n" transform="translate(1092.6 1078.4)"><circle r="26.8"/><text y="12">B<tspan class="s" dy="4">4</tspan></text></g>
  <g id="Fs6" class="n" transform="translate(1188.7 1078.4)"><circle r="26.8"/><text y="12">F<tspan class="sh">♯</tspan><tspan class="s" dy="4">6</tspan></text></g>
  <!-- row 18 -->
  <g id="G-3" class="n" transform="translate(708.2 1139.7)"><circle r="26.8"/><text y="12">G<tspan class="s" dy="4">-3</tspan></text></g>
  <g id="D-1" class="n" transform="translate(804.3 1139.7)"><circle r="26.8"/><text y="12">D<tspan class="s" dy="4">-1</tspan></text></g>
  <g id="A0" class="n" transform="translate(900.4 1139.7)"><circle r="26.8"/><text y="12">A<tspan class="s" dy="4">0</tspan></text></g>
  <g id="E2" class="n" transform="translate(996.5 1139.7)"><circle r="26.8"/><text y="12">E<tspan class="s" dy="4">2</tspan></text></g>
  <g id="B3" class="n" transform="translate(1092.6 1139.7)"><circle r="26.8"/><text y="12">B<tspan class="s" dy="4">3</tspan></text></g>
  <g id="Fs5" class="n" transform="translate(1188.7 1139.7)"><circle r="26.8"/><text y="12">F<tspan class="sh">♯</tspan><tspan class="s" dy="4">5</tspan></text></g>
  <!-- row 19 -->
  <g id="G-4" class="n" transform="translate(708.2 1201)"><circle r="26.8"/><text y="12">G<tspan class="s" dy="4">-4</tspan></text></g>
  <g id="D-2" class="n" transform="translate(804.3 1201)"><circle r="26.8"/><text y="12">D<tspan class="s" dy="4">-2</tspan></text></g>
  <g id="A-1" class="n" transform="translate(900.4 1201)"><circle r="26.8"/><text y="12">A<tspan class="s" dy="4">-1</tspan></text></g>
  <g id="E1" class="n" transform="translate(996.5 1201)"><circle r="26.8"/><text y="12">E<tspan class="s" dy="4">1</tspan></text></g>
  <g id="B2" class="n" transform="translate(1092.6 1201)"><circle r="26.8"/><text y="12">B<tspan class="s" dy="4">2</tspan></text></g>
  <g id="Fs4" class="n" transform="translate(1188.7 1201)"><circle r="26.8"/><text y="12">F<tspan class="sh">♯</tspan><tspan class="s" dy="4">4</tspan></text></g>
</g>
</svg>
